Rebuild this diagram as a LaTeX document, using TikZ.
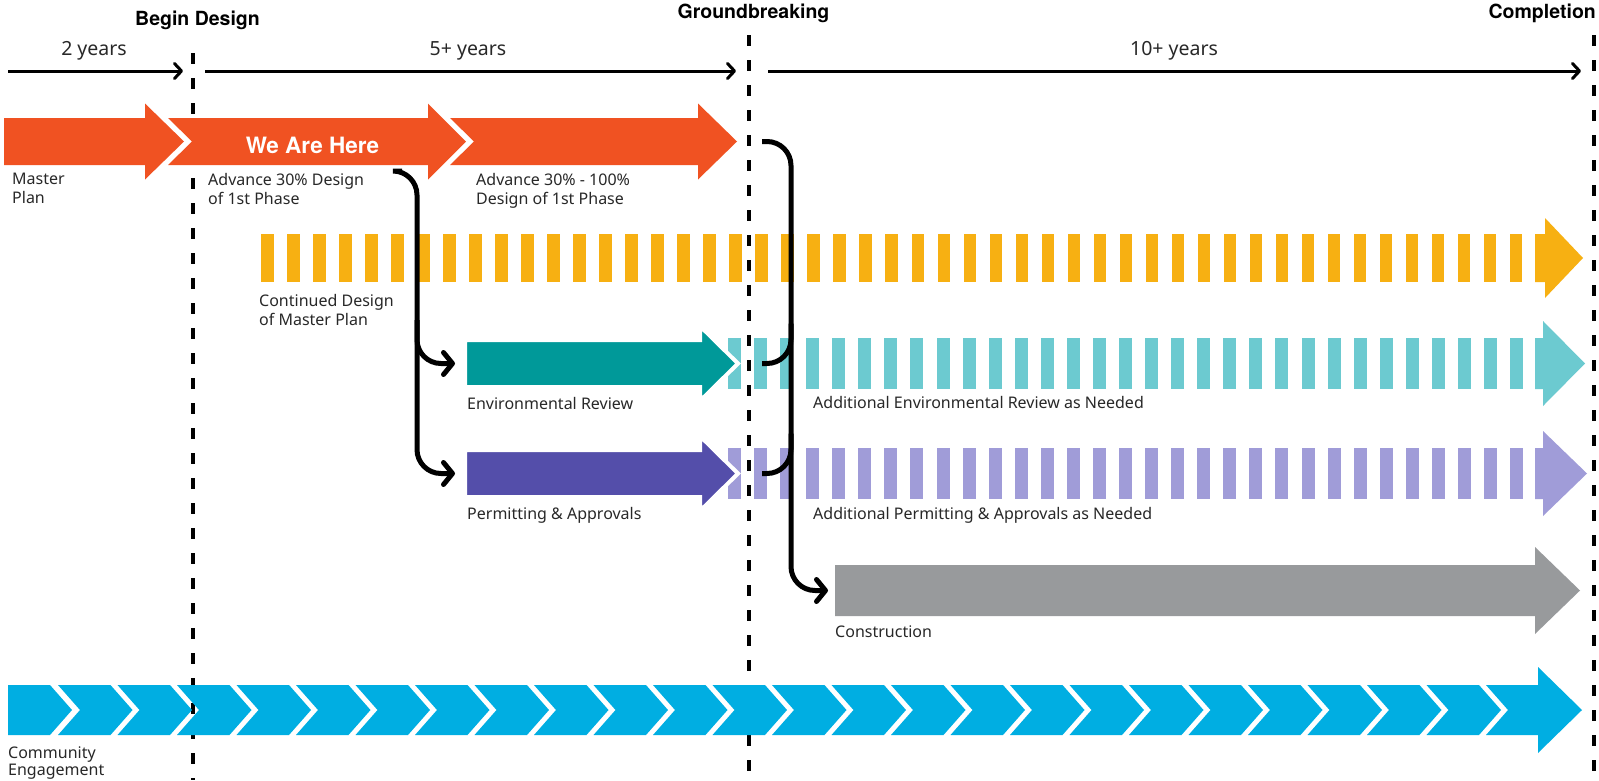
\documentclass[tikz,border=0pt]{standalone}
\usepackage{fontspec}
\setmainfont{Noto Sans}
\newfontfamily\herosfont{TeX Gyre Heros}
\usetikzlibrary{arrows.meta}
\definecolor{orangec}{RGB}{240,82,34}
\definecolor{yellowc}{RGB}{247,176,18}
\definecolor{tealc}{RGB}{0,153,153}
\definecolor{lteal}{RGB}{108,202,208}
\definecolor{purplec}{RGB}{84,78,170}
\definecolor{lpurple}{RGB}{160,156,216}
\definecolor{grayc}{RGB}{152,154,156}
\definecolor{cyanc}{RGB}{0,174,226}
\definecolor{txtc}{RGB}{40,40,40}
\begin{document}
\begin{tikzpicture}[x=1pt,y=-1pt,
  lbl/.style={inner sep=0pt, text=txtc, font=\fontsize{16}{19}\selectfont, align=left},
  hdr/.style={inner sep=0pt, text=black, font=\herosfont\bfseries\fontsize{19.5}{22}\selectfont},
  yrs/.style={inner sep=0pt, text=txtc, font=\fontsize{19.5}{22}\selectfont},
  tline/.style={line width=3pt, -{Straight Barb[length=7pt,width=15pt,round]}},
  milestone/.style={line width=4pt, dash pattern=on 11pt off 14pt},
  connline/.style={line width=5pt, rounded corners=24pt},
  conn/.style={connline, -{Straight Barb[length=9pt,width=22pt,round]}},
  outlined/.style={draw=white, line width=4pt, line join=miter},
]
\useasboundingbox (0,0) rectangle (1599,780);
\fill[white] (0,0) rectangle (1599,780);

% milestone dashed lines (behind)
\draw[milestone] (193,53) -- (193,780);
\draw[milestone] (749,35) -- (749,780);
\draw[milestone] (1594,35) -- (1594,780);

% headers
\node[hdr, anchor=base] (bd) at (197.5,25) {Begin Design};
\node[hdr, anchor=base] (gb) at (753.5,18) {Groundbreaking};
\node[hdr, anchor=base east] (cp) at (1596,18) {Completion};

% timeline
\node[yrs, anchor=base] (y2) at (94,55) {2 years};
\node[yrs, anchor=base] (y5) at (468,55) {5+ years};
\node[yrs, anchor=base] (y10) at (1174,55) {10+ years};
\coordinate (t1a) at (8,71); \coordinate (t1b) at (183,71);
\coordinate (t2a) at (205,71); \coordinate (t2b) at (736,71);
\coordinate (t3a) at (768,71); \coordinate (t3b) at (1581,71);
\draw[tline] (t1a) -- (t1b);
\draw[tline] (t2a) -- (t2b);
\draw[tline] (t3a) -- (t3b);

% orange arrows
\fill[orangec] (4,118) -- (145,118) -- (145,103.5) -- (184,141.5) -- (145,179.5) -- (145,165) -- (4,165) -- cycle;
\fill[orangec] (168,118) -- (428,118) -- (428,103.5) -- (466,141.5) -- (428,179.5) -- (428,165) -- (168,165) -- (192,141.5) -- cycle;
\fill[orangec] (450,118) -- (698,118) -- (698,103.5) -- (737,141.5) -- (698,179.5) -- (698,165) -- (450,165) -- (474,141.5) -- cycle;
\node[inner sep=0pt, text=white, font=\herosfont\bfseries\fontsize{22.5}{25}\selectfont, anchor=base] (here) at (312.5,153) {We Are Here};

\node[lbl, anchor=north west] (mp) at (12,173) {Master\\Plan};
\node[lbl, anchor=north west] (a30) at (208,173) {Advance 30\% Design\\of 1st Phase};
\node[lbl, anchor=north west] (a100) at (476,173) {Advance 30\% - 100\%\\Design of 1st Phase};

% yellow dashed arrow
\foreach \i in {0,...,48} {
  \fill[yellowc] ({261+26.02*\i},234) rectangle +(12.5,48);
}
\fill[yellowc] (1535,234) -- (1545,234) -- (1545,218) -- (1583,258) -- (1545,298) -- (1545,282) -- (1535,282) -- cycle;
\node[lbl, anchor=north west] (cd) at (259,294) {Continued Design\\of Master Plan};

% light teal / light purple dashed arrows
\foreach \i in {0,...,30} {
  \fill[lteal] ({728+26.07*\i},338) rectangle +(13,51);
  \fill[lpurple] ({728+26.07*\i},448) rectangle +(13,51);
}
\fill[lteal] (1535,338) -- (1543,338) -- (1543,321) -- (1585,363.5) -- (1543,406) -- (1543,389) -- (1535,389) -- cycle;
\fill[lpurple] (1535,448) -- (1543,448) -- (1543,431) -- (1587,473.5) -- (1543,516) -- (1543,499) -- (1535,499) -- cycle;

% environmental review & permitting arrows
\filldraw[tealc, outlined] (465,340) -- (700,340) -- (700,326) -- (738,363.5) -- (700,401) -- (700,387) -- (465,387) -- cycle;
\filldraw[purplec, outlined] (465,450) -- (700,450) -- (700,436) -- (738,473.5) -- (700,511) -- (700,497) -- (465,497) -- cycle;
\node[lbl, anchor=base west] (er) at (467,409) {Environmental Review};
\node[lbl, anchor=base west] (pa) at (467,519) {Permitting \& Approvals};
\node[lbl, anchor=base west] (aer) at (813,408) {Additional Environmental Review as Needed};
\node[lbl, anchor=base west] (apa) at (813,519) {Additional Permitting \& Approvals as Needed};

% construction
\fill[grayc] (835,565) -- (1535,565) -- (1535,547) -- (1580,590.5) -- (1535,634) -- (1535,616) -- (835,616) -- cycle;
\node[lbl, anchor=base west] (con) at (835,637) {Construction};

% community engagement chevrons
\fill[cyanc] (8,685) -- (50,685) -- (72,710) -- (50,735) -- (8,735) -- cycle;
\foreach \j in {1,...,24} {
  \pgfmathsetmacro\wa{80+59.5*(\j-1)}
  \pgfmathsetmacro\wb{80+59.5*\j}
  \fill[cyanc] ({\wa-22},685) -- ({\wb-29},685) -- ({\wb-7},710) -- ({\wb-29},735) -- ({\wa-22},735) -- (\wa,710) -- cycle;
}
\fill[cyanc] (1486,685) -- (1538,685) -- (1538,667) -- (1582,710) -- (1538,753) -- (1538,735) -- (1486,735) -- (1508,710) -- cycle;
\node[lbl, anchor=north west, font=\fontsize{16}{17.5}\selectfont] (ce) at (8,746) {Community\\Engagement};

% connectors
\coordinate (a3out) at (762,141.5);
\coordinate (consin) at (828,590.5);
\coordinate (spineR) at (791,0);
\coordinate (erout) at (762,363.5);
\coordinate (paout) at (762,473.5);
\coordinate (a2out) at (402,171);
\coordinate (spineL) at (417,0);
\coordinate (erbranch) at (417,320);
\coordinate (erin) at (455,363.5);
\coordinate (pain) at (455,473.5);
\draw[conn] (a3out) -- (a3out -| spineR) -- (consin -| spineR) -- (consin);
\draw[connline] (erout) -- (erout -| spineR) -- ([yshift=40pt]erout -| spineR);
\draw[connline] (paout) -- (paout -| spineR) -- ([yshift=40pt]paout -| spineR);
\draw[conn] (a2out) -- (a2out -| spineL) -- (pain -| spineL) -- (pain);
\draw[conn] (erbranch) -- (erin -| spineL) -- (erin);
\end{tikzpicture}
\end{document}
